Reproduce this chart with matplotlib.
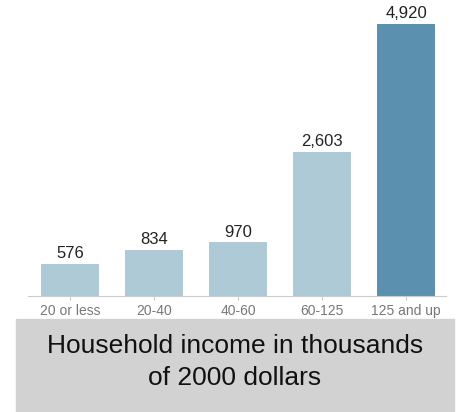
import matplotlib.pyplot as plt
from matplotlib.patches import Rectangle

plt.rcParams['font.family'] = ['Liberation Sans', 'DejaVu Sans']

categories = ['20 or less', '20-40', '40-60', '60-125', '125 and up']
values = [576, 834, 970, 2603, 4920]
bar_colors = ['#aecad7', '#aecad7', '#aecad7', '#aecad7', '#5b90ae']

W, H = 459, 412
fig = plt.figure(figsize=(W / 100, H / 100), dpi=100)
ax = fig.add_axes([28 / W, (H - 296) / H, (446 - 28) / W, 296 / H])

x = range(len(categories))
ax.bar(x, values, width=0.69, color=bar_colors, zorder=2)
for xi, v in zip(x, values):
    ax.text(xi, v + 50, f'{v:,}', ha='center', va='bottom', fontsize=12, color='#222222')

ax.set_xlim(-0.5, 4.476)
ax.set_ylim(0, 5354)
ax.set_xticks(list(x))
ax.set_xticklabels(categories, fontsize=10, color='#777777')
ax.tick_params(axis='x', length=3, color='#cccccc', pad=3)
ax.set_yticks([])
for side in ['left', 'right', 'top']:
    ax.spines[side].set_visible(False)
ax.spines['bottom'].set_color('#cccccc')

# caption box
fig.patches.append(Rectangle((16 / W, 0), (454 - 16) / W, (H - 319) / H,
                             transform=fig.transFigure, color='#d3d2d3', zorder=0))
fig.text(235 / W, (H - 362) / H, 'Household income in thousands\nof 2000 dollars',
         ha='center', va='center', fontsize=19, color='#111111', linespacing=1.4)

fig.savefig('out.png', dpi=100)
